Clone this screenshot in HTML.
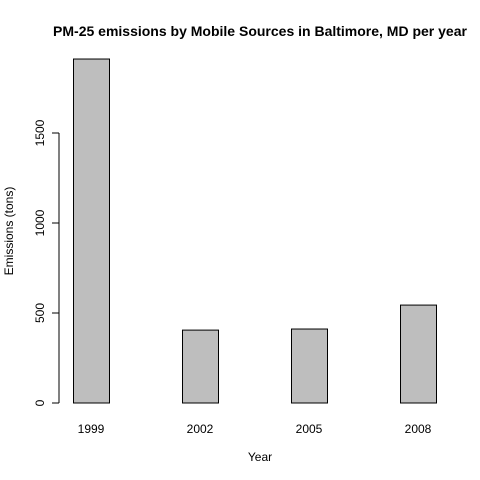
<!DOCTYPE html>
<html><head><meta charset="utf-8">
<style>
html,body{margin:0;padding:0;background:#fff;}
svg{display:block;font-family:"Liberation Sans",Arial,sans-serif;}
</style></head>
<body>
<svg id="chart" width="480" height="480" viewBox="0 0 480 480">
<text x="260" y="36" text-anchor="middle" font-weight="bold" font-size="14">PM-25 emissions by Mobile Sources in Baltimore, MD per year</text>
<text x="260" y="461" text-anchor="middle" font-size="12">Year</text>
<text transform="translate(13,231) rotate(-90)" text-anchor="middle" font-size="12">Emissions (tons)</text>
<g id="yaxis"></g>
<g id="bars"></g>
<g id="xlabels"></g>
</svg>
<script>
const categories = ["1999","2002","2005","2008"];
const values = [1911, 405, 411, 544];
const yTicks = [0, 500, 1000, 1500];
const yTickLabels = ["0","500","1000","1500"];

const NS = "http://www.w3.org/2000/svg";
function y(v){ return 403 - v * 0.18; }
function xc(i){ return 91 + i * 109; }
const barW = 36;

const ya = document.getElementById('yaxis');
let ln = document.createElementNS(NS,'line');
ln.setAttribute('x1',59);ln.setAttribute('x2',59);
ln.setAttribute('y1',y(yTicks[0]));ln.setAttribute('y2',y(yTicks[yTicks.length-1]));
ln.setAttribute('stroke','#000');


ya.appendChild(ln);
yTicks.forEach((t,i)=>{
  const tk = document.createElementNS(NS,'line');
  tk.setAttribute('x1',52);tk.setAttribute('x2',59);
  tk.setAttribute('y1',y(t));tk.setAttribute('y2',y(t));
  tk.setAttribute('stroke','#000');
  
  
  ya.appendChild(tk);
  const tx = document.createElementNS(NS,'text');
  tx.setAttribute('transform','translate(44,'+y(t)+') rotate(-90)');
  tx.setAttribute('text-anchor','middle');
  tx.setAttribute('font-size','12');
  tx.textContent = yTickLabels[i];
  
  
  ya.appendChild(tx);
});

const bg = document.getElementById('bars');
const xl = document.getElementById('xlabels');
categories.forEach((c,i)=>{
  const r = document.createElementNS(NS,'rect');
  r.setAttribute('x', xc(i)-barW/2 + 0.5);
  r.setAttribute('y', y(values[i]));
  r.setAttribute('width', barW);
  r.setAttribute('height', y(0)-y(values[i]));
  r.setAttribute('fill','#bebebe');
  r.setAttribute('stroke','#000');
  r.setAttribute('stroke-width','1');
  
  
  bg.appendChild(r);
  const t = document.createElementNS(NS,'text');
  t.setAttribute('x', xc(i));
  t.setAttribute('y', 433);
  t.setAttribute('text-anchor','middle');
  t.setAttribute('font-size','12');
  t.textContent = c;
  
  
  xl.appendChild(t);
});
</script>
</body></html>
